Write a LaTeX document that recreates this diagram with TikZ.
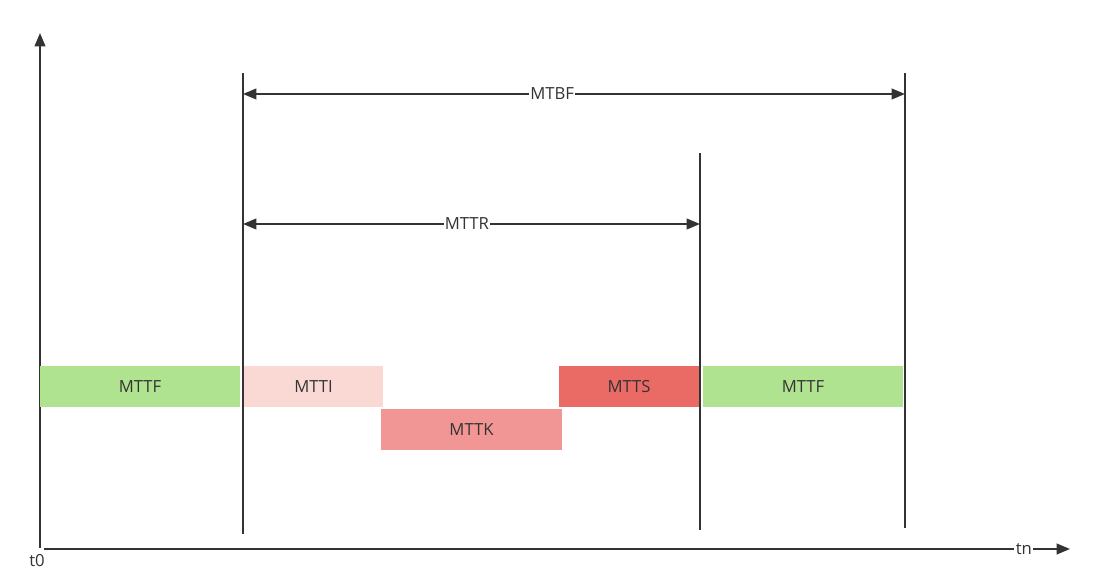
\documentclass[tikz,border=0pt]{standalone}
\usepackage{fontspec}
\setmainfont{Open Sans}
\usepackage{xcolor}
\definecolor{ink}{HTML}{333333}
\definecolor{upgreen}{HTML}{B0E38F}
\definecolor{red1}{HTML}{FAD9D5}
\definecolor{red2}{HTML}{F19694}
\definecolor{red3}{HTML}{EA6B66}
\usepackage{tikz}
\usetikzlibrary{arrows.meta,positioning}

\begin{document}
\begin{tikzpicture}[
  x=0.75pt, y=-0.75pt,
  line width=1.4pt, draw=ink,
  tip/.style={-{Triangle[length=10pt,width=8pt]}},
  dim/.style={{Triangle[length=10pt,width=8pt]}-{Triangle[length=10pt,width=8pt]}},
  every node/.append style={font=\fontsize{12.5}{14}\selectfont, text=ink},
  lbl/.style={fill=white, inner sep=1pt},
  phase/.style={minimum height=30.75pt, inner sep=0pt}
  ]
  \useasboundingbox (0,0) rectangle (1093,580);

  % axes
  \coordinate (orig) at (40,548);
  \coordinate (ytop) at (40,33);
  \coordinate (xleft) at (44,549);
  \coordinate (xright) at (1070,549);
  \draw[tip] (orig) -- (ytop);
  \draw[tip] (xleft) -- node[lbl, pos=0.955] {tn} (xright);
  \node (t0) at (37,561) {t0};

  % markers
  \coordinate (m1top) at (243,73);  \coordinate (m1bot) at (243,534);
  \coordinate (m2top) at (700,153); \coordinate (m2bot) at (700,530);
  \coordinate (m3top) at (905,73);  \coordinate (m3bot) at (905,528);
  \draw (m1top) -- (m1bot);
  \draw (m2top) -- (m2bot);
  \draw (m3top) -- (m3bot);

  % MTBF / MTTR
  \coordinate (bfL) at (243,94);  \coordinate (bfR) at (905,94);
  \coordinate (trL) at (243,224); \coordinate (trR) at (700,224);
  \draw[dim] (bfL) -- node[lbl, pos=0.467] {MTBF} (bfR);
  \draw[dim] (trL) -- node[lbl, pos=0.490] {MTTR} (trR);

  % phases
  \node[phase, fill=upgreen, minimum width=150pt] (ttf1) at (140,386.5) {MTTF};
  \node[phase, fill=red1, minimum width=104.25pt] (tti) at (313.5,386.5) {MTTI};
  \node[phase, fill=red2, minimum width=135.75pt] (ttk) at (471.5,429.5) {MTTK};
  \node[phase, fill=red3, minimum width=105pt] (tts) at (629,386.5) {MTTS};
  \node[phase, fill=upgreen, minimum width=150pt] (ttf2) at (803,386.5) {MTTF};

\end{tikzpicture}
\end{document}
